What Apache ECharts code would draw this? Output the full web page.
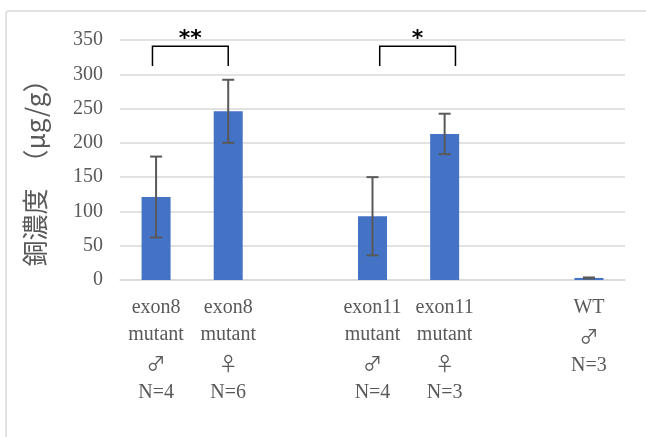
<!DOCTYPE html>
<html><head><meta charset="utf-8">
<script src="https://cdn.jsdelivr.net/npm/echarts@6/dist/echarts.min.js"></script>
<style>html,body{margin:0;padding:0;background:#fff}#c{width:646px;height:437px}</style>
</head><body><div id="c"></div>
<script>
const categories = ["exon8\nmutant\n♂\nN=4", "exon8\nmutant\n♀\nN=6", "", "exon11\nmutant\n♂\nN=4", "exon11\nmutant\n♀\nN=3", "", "WT\n♂\nN=3"];
const means = [121, 246, null, 93, 213, null, 3];
const errors = [59, 46, null, 57, 29.5, null, 0.7];
const yTicks = [0, 50, 100, 150, 200, 250, 300, 350];
const bracketSpans = [[-0.05, 1.0], [3.1, 4.15]];
const bracketLabels = ["**", "*"];
const bracketLow = 312, bracketHigh = 341;

const chart = echarts.init(document.getElementById('c'), null, {renderer: 'canvas'});
const serif = 'Liberation Serif';
const gray = '#595959';

const errData = [];
means.forEach((m, i) => { if (m != null) errData.push([i, m - errors[i], m + errors[i]]); });
const brData = bracketSpans.map((s, i) => [s[0], s[1], bracketLow, bracketHigh, i]);

chart.setOption({
  animation: false,
  graphic: [{type: 'rect', shape: {x: 6, y: 11, width: 700, height: 500, r: 3}, style: {fill: 'none', stroke: '#d9d9d9', lineWidth: 1.5}, z: -1}],
  grid: {left: 120, right: 21, top: 40, bottom: 157},
  xAxis: [{
    type: 'category', data: categories,
    axisLine: {lineStyle: {color: '#d9d9d9', width: 1.5}},
    axisTick: {show: false},
    axisLabel: {
      interval: 0, fontFamily: serif, fontSize: 20, color: gray, lineHeight: 27, margin: 14,
      formatter: v => v.replace(/([♂♀])/g, '{s|$1}'),
      rich: {s: {fontFamily: 'Noto Sans CJK JP', fontSize: 19, color: gray, lineHeight: 31}}
    }
  }, {
    type: 'value', min: -0.5, max: 6.5, show: false
  }],
  yAxis: {
    type: 'value', min: yTicks[0], max: yTicks[yTicks.length - 1], interval: 50,
    axisLine: {show: false}, axisTick: {show: false},
    splitLine: {lineStyle: {color: '#d9d9d9', width: 1.5}},
    axisLabel: {fontFamily: serif, fontSize: 20, color: gray, margin: 17},
    name: '銅濃度　（μg/g）　', nameLocation: 'middle', nameGap: 72, nameRotate: 90,
    nameTextStyle: {fontFamily: 'Noto Sans CJK JP', fontSize: 26, color: gray}
  },
  series: [{
    type: 'bar', data: means, barWidth: 29, itemStyle: {color: '#4472C4'}
  }, {
    type: 'custom', data: errData, z: 5,
    renderItem: (params, api) => {
      const lo = api.coord([api.value(0), api.value(1)]);
      const hi = api.coord([api.value(0), api.value(2)]);
      const hw = 6;
      const st = {stroke: gray, lineWidth: 2};
      return {type: 'group', children: [
        {type: 'line', shape: {x1: lo[0], y1: lo[1], x2: hi[0], y2: hi[1]}, style: st},
        {type: 'line', shape: {x1: lo[0] - hw, y1: lo[1], x2: lo[0] + hw, y2: lo[1]}, style: st},
        {type: 'line', shape: {x1: hi[0] - hw, y1: hi[1], x2: hi[0] + hw, y2: hi[1]}, style: st}
      ]};
    }
  }, {
    type: 'custom', xAxisIndex: 1, data: brData, z: 6,
    renderItem: (params, api) => {
      const a = api.coord([api.value(0), api.value(2)]);
      const b = api.coord([api.value(1), api.value(3)]);
      const txt = bracketLabels[api.value(4)];
      return {type: 'group', children: [
        {type: 'polyline', shape: {points: [[a[0], a[1]], [a[0], b[1]], [b[0], b[1]], [b[0], a[1]]]}, style: {stroke: '#000', lineWidth: 1.5, fill: 'none'}},
        {type: 'text', style: {text: txt, x: (a[0] + b[0]) / 2, y: b[1] + 4, align: 'center', verticalAlign: 'bottom', font: 'bold 22px "DejaVu Sans"', fill: '#000'}}
      ]};
    }
  }]
});
</script></body></html>
